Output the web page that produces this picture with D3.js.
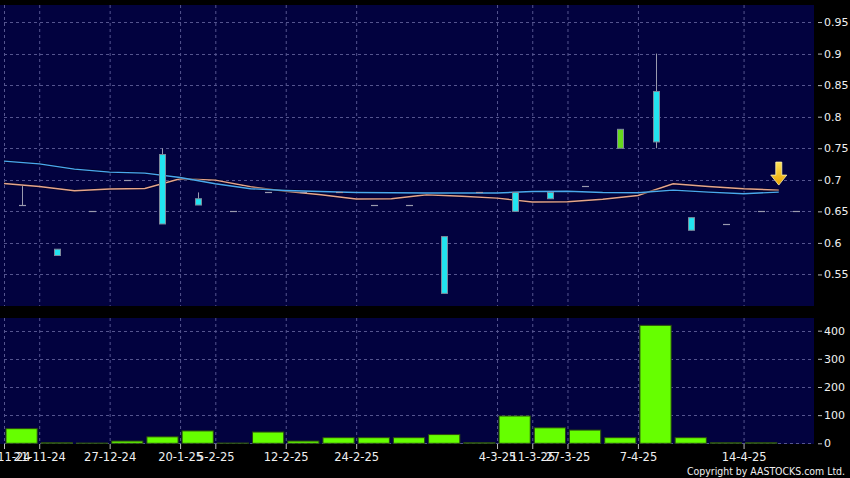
<!DOCTYPE html>
<html><head><meta charset="utf-8">
<script src="https://cdn.jsdelivr.net/npm/d3@7"></script>
<style>
html,body{margin:0;padding:0;background:#000;}
svg{display:block;}
text{font-family:"DejaVu Sans",sans-serif;}
</style></head>
<body>
<svg id="c" width="850" height="478"></svg>
<script>
// ---- data ----
const openP  = [0.66,0.59,0.65,0.70,0.74,0.67,0.65,0.68,0.68,0.68,0.66,0.66,0.61,0.68,0.68,0.68,0.69,0.75,0.84,0.64,0.63,0.65,0.65];
const highP  = [0.69,0.59,0.65,0.70,0.75,0.68,0.65,0.68,0.68,0.68,0.66,0.66,0.61,0.68,0.68,0.68,0.69,0.78,0.90,0.64,0.63,0.65,0.65];
const lowP   = [0.66,0.58,0.65,0.70,0.63,0.66,0.65,0.68,0.68,0.68,0.66,0.66,0.52,0.68,0.65,0.67,0.69,0.75,0.75,0.62,0.63,0.65,0.65];
const closeP = [0.66,0.58,0.65,0.70,0.63,0.66,0.65,0.68,0.68,0.68,0.66,0.66,0.52,0.68,0.65,0.67,0.69,0.78,0.76,0.62,0.63,0.65,0.65];
const maBlue   = [0.7296,0.7253,0.7169,0.7122,0.7106,0.7036,0.6937,0.6858,0.6831,0.6815,0.6799,0.6794,0.6790,0.6790,0.6790,0.6815,0.6818,0.6799,0.6794,0.6837,0.6805,0.6778,0.6805];
const maOrange = [0.6941,0.6894,0.6826,0.6853,0.6862,0.7016,0.6995,0.6889,0.6818,0.6763,0.6695,0.6700,0.6763,0.6739,0.6710,0.6647,0.6652,0.6691,0.6752,0.6937,0.6894,0.6858,0.6837];
const volume = [52,2,1,8,23,44,1,40,8,20,20,20,31,2,97,55,47,20,419,20,2,2,0];
const dateTickIdx = [0,1,3,5,6,8,10,14,15,16,18,21];
const dateTickLabels = ["14-11-24","21-11-24","27-12-24","20-1-25","5-2-25","12-2-25","24-2-25","4-3-25","11-3-25","27-3-25","7-4-25","14-4-25"];
const priceTicks = [0.55,0.6,0.65,0.7,0.75,0.8,0.85,0.9,0.95];
const volTicks = [0,100,200,300,400];

// ---- layout ----
const svg = d3.select("#c");
const W = 850, H = 478;
const X0 = 4, X1 = 814;
const P = {top:5, bottom:306};
const V = {top:318, bottom:444, base:443.3};
const n = closeP.length;

svg.append("rect").attr("width",W).attr("height",H).attr("fill","#000");

const xBand = d3.scaleBand().domain(d3.range(n)).range([X0,X1]).padding(0);
const xEdge = d3.scaleLinear().domain([0,n]).range([X0,X1]);
const yP = d3.scaleLinear().domain([0.5,0.977]).range([P.bottom,P.top]);
const yV = d3.scaleLinear().domain([0,445]).range([V.base,V.top]);

const navy = "#02023f";
const gridCol = "#55558f";
svg.append("rect").attr("x",0).attr("y",P.top).attr("width",X1).attr("height",P.bottom-P.top).attr("fill",navy);
svg.append("rect").attr("x",0).attr("y",V.top).attr("width",X1).attr("height",V.bottom-V.top).attr("fill",navy);

// grids
function vgrid(y0,y1){
  svg.append("g").selectAll("line").data(dateTickIdx).join("line")
    .attr("x1",d=>xEdge(d)+0.5).attr("x2",d=>xEdge(d)+0.5)
    .attr("y1",y0).attr("y2",y1)
    .attr("stroke",gridCol).attr("stroke-width",1).attr("stroke-dasharray","3,3");
}
vgrid(P.top,P.bottom); vgrid(V.top,V.bottom);
svg.append("g").selectAll("line").data(priceTicks).join("line")
  .attr("x1",X0).attr("x2",X1).attr("y1",d=>Math.round(yP(d))+0.5).attr("y2",d=>Math.round(yP(d))+0.5)
  .attr("stroke",gridCol).attr("stroke-dasharray","3,3");
svg.append("g").selectAll("line").data(volTicks).join("line")
  .attr("x1",X0).attr("x2",X1).attr("y1",d=>Math.round(yV(d))+0.5).attr("y2",d=>Math.round(yV(d))+0.5)
  .attr("stroke",gridCol).attr("stroke-dasharray","3,3");

// moving averages (drawn at slot left edges, like the reference)
const line = d3.line().x((d,i)=>xEdge(i)).y(d=>yP(d));
[[maOrange,"#e6a58a"],[maBlue,"#4aa8ee"]].forEach(([s,c])=>{
  svg.append("path").datum(s).attr("d",line).attr("fill","none")
    .attr("stroke","#000018").attr("stroke-width",3).attr("stroke-opacity",0.5);
  svg.append("path").datum(s).attr("d",line).attr("fill","none")
    .attr("stroke",c).attr("stroke-width",1.4);
});

// candles
const cg = svg.append("g");
const bw = 6;
for(let i=0;i<n;i++){
  const cx = Math.round(xBand(i)+xBand.bandwidth()/2)+0.5;
  const o=openP[i], c=closeP[i], h=highP[i], l=lowP[i];
  if(h>l){
    cg.append("line").attr("x1",cx).attr("x2",cx).attr("y1",yP(h)).attr("y2",yP(l))
      .attr("stroke","#9a9aae").attr("stroke-width",1);
  }
  if(o===c){
    cg.append("line").attr("x1",cx-3.5).attr("x2",cx+3.5).attr("y1",Math.round(yP(c))+0.5).attr("y2",Math.round(yP(c))+0.5)
      .attr("stroke","#9a9aae").attr("stroke-width",1.2);
  } else {
    const top = yP(Math.max(o,c)), bot = yP(Math.min(o,c));
    cg.append("rect").attr("x",cx-bw/2).attr("y",top).attr("width",bw).attr("height",bot-top)
      .attr("fill", c>o ? "#66d91c" : "#22e4f0").attr("stroke","#7d8a9c").attr("stroke-width",1);
  }
}

// volume bars
svg.append("g").selectAll("rect").data(volume).join("rect")
  .attr("x",(d,i)=>xBand(i)+2).attr("width",xBand.bandwidth()-4)
  .attr("y",d=>yV(d)).attr("height",d=>V.base-yV(d))
  .attr("fill","#66ff00").attr("stroke","#2a4a10").attr("stroke-width",1)
  .attr("display",d=>d>0?null:"none");

// arrow marker at the last MA point
const defs = svg.append("defs");
const gr = defs.append("linearGradient").attr("id","ag").attr("x1",0).attr("x2",0).attr("y1",0).attr("y2",1);
gr.append("stop").attr("offset","0%").attr("stop-color","#ffe45a");
gr.append("stop").attr("offset","100%").attr("stop-color","#e8a200");
const ax = xEdge(n-1), ay = yP(maOrange[n-1]) - 5;
svg.append("path")
  .attr("d",`M${ax-3},${ay-23}L${ax+3},${ay-23}L${ax+3},${ay-10}L${ax+8},${ay-10}L${ax},${ay}L${ax-8},${ay-10}L${ax-3},${ay-10}Z`)
  .attr("fill","url(#ag)").attr("stroke","#fff2b0").attr("stroke-width",0.8);

// axes
const fmtP = d=>String(+d.toFixed(2));
const pAxis = svg.append("g").attr("transform",`translate(818,0)`)
  .call(d3.axisRight(yP).tickValues(priceTicks).tickFormat(fmtP).tickSize(4).tickPadding(2));
const vAxis = svg.append("g").attr("transform",`translate(818,0)`)
  .call(d3.axisRight(yV).tickValues(volTicks).tickSize(4).tickPadding(2));
const xAxis = svg.append("g").attr("transform",`translate(0,${V.bottom})`)
  .call(d3.axisBottom(xEdge).tickValues(dateTickIdx).tickFormat((d,i)=>dateTickLabels[i]).tickSize(5).tickPadding(4));
[pAxis,vAxis,xAxis].forEach(g=>{
  g.select(".domain").remove();
  g.selectAll(".tick line").attr("stroke","#bbbbbb");
  g.selectAll(".tick text").attr("fill","#f0f0f0").style("font-size","11px").style("font-family","DejaVu Sans");
});
xAxis.selectAll(".tick text").style("font-size","11.5px");

svg.append("text").attr("x",845).attr("y",475).attr("text-anchor","end")
  .attr("fill","#f0f0f0").style("font-size","11px").style("font-family","'DejaVu Sans Condensed','DejaVu Sans'")
  .attr("textLength",158).attr("lengthAdjust","spacingAndGlyphs")
  .text("Copyright by AASTOCKS.com Ltd.");
</script>
</body></html>
